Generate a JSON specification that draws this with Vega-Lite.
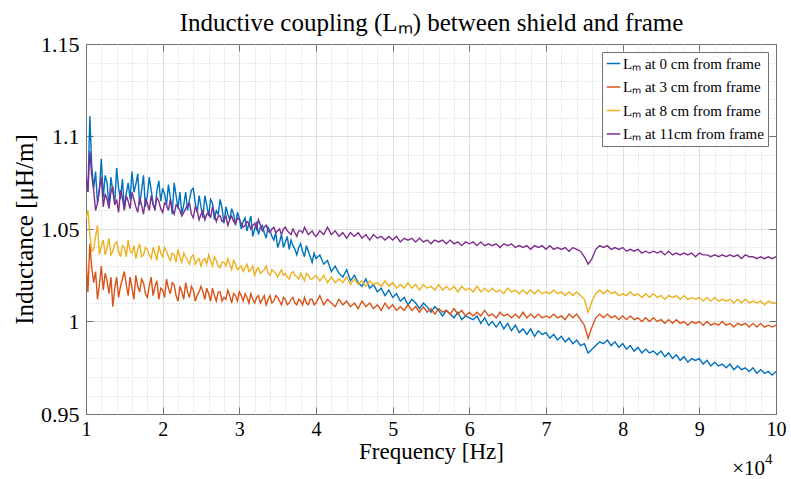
{
"$schema": "https://vega.github.io/schema/vega-lite/v6.json",
"width": 690, "height": 370,
"autosize": {"type": "none"},
"padding": {"left": 86, "top": 44, "right": 15, "bottom": 65},
"background": "white",
"config": {"view": {"stroke": "#707070", "strokeWidth": 1}, "font": "Liberation Serif"},
"datasets": {"main": [
{"f":10000,"a":1.078,"b":1.034,"c":1.056,"d":1.080},
{"f":10500,"a":1.111,"b":1.042,"c":1.047,"d":1.092},
{"f":11000,"a":1.072,"b":1.021,"c":1.039,"d":1.071},
{"f":11500,"a":1.064,"b":1.012,"c":1.052,"d":1.064},
{"f":12000,"a":1.088,"b":1.030,"c":1.041,"d":1.078},
{"f":12500,"a":1.079,"b":1.026,"c":1.036,"d":1.069},
{"f":13000,"a":1.062,"b":1.015,"c":1.045,"d":1.061},
{"f":13500,"a":1.070,"b":1.008,"c":1.038,"d":1.073},
{"f":14000,"a":1.083,"b":1.024,"c":1.043,"d":1.066},
{"f":14500,"a":1.066,"b":1.019,"c":1.035,"d":1.071},
{"f":15000,"a":1.061,"b":1.027,"c":1.040,"d":1.060},
{"f":15500,"a":1.075,"b":1.014,"c":1.044,"d":1.065},
{"f":16000,"a":1.081,"b":1.018,"c":1.037,"d":1.070},
{"f":16500,"a":1.074,"b":1.025,"c":1.034,"d":1.062},
{"f":17000,"a":1.063,"b":1.016,"c":1.042,"d":1.067},
{"f":17500,"a":1.079,"b":1.021,"c":1.036,"d":1.058},
{"f":18000,"a":1.068,"b":1.013,"c":1.039,"d":1.064},
{"f":18500,"a":1.071,"b":1.024,"c":1.034,"d":1.068},
{"f":19000,"a":1.060,"b":1.019,"c":1.037,"d":1.061},
{"f":19500,"a":1.076,"b":1.012,"c":1.041,"d":1.065},
{"f":20000,"a":1.072,"b":1.017,"c":1.035,"d":1.059},
{"f":20500,"a":1.063,"b":1.023,"c":1.038,"d":1.063},
{"f":21000,"a":1.067,"b":1.015,"c":1.033,"d":1.066},
{"f":21500,"a":1.075,"b":1.020,"c":1.036,"d":1.058},
{"f":22000,"a":1.061,"b":1.011,"c":1.039,"d":1.062},
{"f":22500,"a":1.058,"b":1.016,"c":1.032,"d":1.057},
{"f":23000,"a":1.070,"b":1.021,"c":1.035,"d":1.061},
{"f":23500,"a":1.066,"b":1.013,"c":1.031,"d":1.064},
{"f":24000,"a":1.072,"b":1.017,"c":1.036,"d":1.056},
{"f":24500,"a":1.059,"b":1.014,"c":1.033,"d":1.060},
{"f":25000,"a":1.062,"b":1.019,"c":1.030,"d":1.058},
{"f":25500,"a":1.068,"b":1.012,"c":1.034,"d":1.055},
{"f":26000,"a":1.057,"b":1.015,"c":1.036,"d":1.059},
{"f":26500,"a":1.064,"b":1.018,"c":1.030,"d":1.062},
{"f":27000,"a":1.060,"b":1.011,"c":1.033,"d":1.054},
{"f":27500,"a":1.066,"b":1.016,"c":1.029,"d":1.057},
{"f":28000,"a":1.053,"b":1.013,"c":1.032,"d":1.055},
{"f":28500,"a":1.058,"b":1.017,"c":1.034,"d":1.052},
{"f":29000,"a":1.061,"b":1.010,"c":1.028,"d":1.057},
{"f":29500,"a":1.052,"b":1.014,"c":1.031,"d":1.053},
{"f":30000,"a":1.056,"b":1.016,"c":1.029,"d":1.055},
{"f":30500,"a":1.054,"b":1.011,"c":1.027,"d":1.051},
{"f":31000,"a":1.049,"b":1.013,"c":1.031,"d":1.054},
{"f":31500,"a":1.057,"b":1.015,"c":1.028,"d":1.050},
{"f":32000,"a":1.050,"b":1.010,"c":1.025,"d":1.053},
{"f":32500,"a":1.047,"b":1.014,"c":1.029,"d":1.055},
{"f":33000,"a":1.052,"b":1.012,"c":1.027,"d":1.049},
{"f":33500,"a":1.045,"b":1.009,"c":1.030,"d":1.052},
{"f":34000,"a":1.049,"b":1.014,"c":1.025,"d":1.048},
{"f":34500,"a":1.044,"b":1.011,"c":1.027,"d":1.051},
{"f":35000,"a":1.040,"b":1.013,"c":1.024,"d":1.049},
{"f":35500,"a":1.047,"b":1.009,"c":1.028,"d":1.047},
{"f":36000,"a":1.043,"b":1.012,"c":1.026,"d":1.051},
{"f":36500,"a":1.039,"b":1.010,"c":1.023,"d":1.048},
{"f":37000,"a":1.041,"b":1.013,"c":1.027,"d":1.050},
{"f":37500,"a":1.036,"b":1.009,"c":1.024,"d":1.046},
{"f":38000,"a":1.042,"b":1.011,"c":1.026,"d":1.049},
{"f":38500,"a":1.035,"b":1.013,"c":1.022,"d":1.051},
{"f":39000,"a":1.038,"b":1.009,"c":1.025,"d":1.047},
{"f":39500,"a":1.032,"b":1.012,"c":1.023,"d":1.049},
{"f":40000,"a":1.034,"b":1.010,"c":1.025,"d":1.046},
{"f":40500,"a":1.036,"b":1.014,"c":1.022,"d":1.049},
{"f":41000,"a":1.031,"b":1.009,"c":1.025,"d":1.047},
{"f":41500,"a":1.033,"b":1.012,"c":1.021,"d":1.051},
{"f":42000,"a":1.027,"b":1.010,"c":1.024,"d":1.047},
{"f":42500,"a":1.030,"b":1.008,"c":1.021,"d":1.049},
{"f":43000,"a":1.026,"b":1.012,"c":1.023,"d":1.046},
{"f":43500,"a":1.024,"b":1.009,"c":1.021,"d":1.048},
{"f":44000,"a":1.028,"b":1.011,"c":1.024,"d":1.045},
{"f":44500,"a":1.022,"b":1.008,"c":1.020,"d":1.048},
{"f":45000,"a":1.025,"b":1.010,"c":1.023,"d":1.046},
{"f":45500,"a":1.021,"b":1.007,"c":1.020,"d":1.048},
{"f":46000,"a":1.019,"b":1.011,"c":1.022,"d":1.045},
{"f":46500,"a":1.023,"b":1.008,"c":1.019,"d":1.047},
{"f":47000,"a":1.018,"b":1.010,"c":1.022,"d":1.044},
{"f":47500,"a":1.020,"b":1.007,"c":1.020,"d":1.047},
{"f":48000,"a":1.016,"b":1.009,"c":1.021,"d":1.045},
{"f":48500,"a":1.018,"b":1.006,"c":1.019,"d":1.046},
{"f":49000,"a":1.014,"b":1.010,"c":1.022,"d":1.044},
{"f":49500,"a":1.017,"b":1.007,"c":1.019,"d":1.046},
{"f":50000,"a":1.013,"b":1.009,"c":1.021,"d":1.044},
{"f":50500,"a":1.015,"b":1.006,"c":1.018,"d":1.046},
{"f":51000,"a":1.011,"b":1.008,"c":1.020,"d":1.043},
{"f":51500,"a":1.013,"b":1.006,"c":1.018,"d":1.045},
{"f":52000,"a":1.009,"b":1.009,"c":1.021,"d":1.044},
{"f":52500,"a":1.012,"b":1.006,"c":1.018,"d":1.045},
{"f":53000,"a":1.010,"b":1.008,"c":1.020,"d":1.043},
{"f":53500,"a":1.007,"b":1.005,"c":1.017,"d":1.045},
{"f":54000,"a":1.010,"b":1.008,"c":1.020,"d":1.043},
{"f":54500,"a":1.008,"b":1.005,"c":1.018,"d":1.044},
{"f":55000,"a":1.005,"b":1.007,"c":1.019,"d":1.042},
{"f":55500,"a":1.008,"b":1.004,"c":1.017,"d":1.044},
{"f":56000,"a":1.006,"b":1.007,"c":1.020,"d":1.043},
{"f":56500,"a":1.003,"b":1.005,"c":1.017,"d":1.044},
{"f":57000,"a":1.006,"b":1.006,"c":1.019,"d":1.042},
{"f":57500,"a":1.004,"b":1.004,"c":1.017,"d":1.044},
{"f":58000,"a":1.002,"b":1.007,"c":1.019,"d":1.042},
{"f":58500,"a":1.005,"b":1.004,"c":1.016,"d":1.043},
{"f":59000,"a":1.001,"b":1.006,"c":1.019,"d":1.041},
{"f":59500,"a":1.003,"b":1.003,"c":1.017,"d":1.043},
{"f":60000,"a":1.002,"b":1.005,"c":1.018,"d":1.042},
{"f":60500,"a":1.001,"b":1.003,"c":1.016,"d":1.043},
{"f":61000,"a":1.003,"b":1.005,"c":1.019,"d":1.041},
{"f":61500,"a":0.999,"b":1.003,"c":1.016,"d":1.043},
{"f":62000,"a":1.002,"b":1.006,"c":1.018,"d":1.041},
{"f":62500,"a":0.998,"b":1.003,"c":1.016,"d":1.042},
{"f":63000,"a":1.000,"b":1.004,"c":1.018,"d":1.041},
{"f":63500,"a":0.997,"b":1.002,"c":1.016,"d":1.042},
{"f":64000,"a":1.000,"b":1.005,"c":1.017,"d":1.040},
{"f":64500,"a":0.996,"b":1.003,"c":1.015,"d":1.042},
{"f":65000,"a":0.999,"b":1.004,"c":1.018,"d":1.041},
{"f":65500,"a":0.995,"b":1.002,"c":1.016,"d":1.042},
{"f":66000,"a":0.998,"b":1.004,"c":1.017,"d":1.040},
{"f":66500,"a":0.994,"b":1.002,"c":1.015,"d":1.041},
{"f":67000,"a":0.996,"b":1.005,"c":1.017,"d":1.040},
{"f":67500,"a":0.993,"b":1.002,"c":1.015,"d":1.041},
{"f":68000,"a":0.996,"b":1.004,"c":1.017,"d":1.039},
{"f":68500,"a":0.992,"b":1.002,"c":1.015,"d":1.041},
{"f":69000,"a":0.995,"b":1.004,"c":1.017,"d":1.040},
{"f":69500,"a":0.993,"b":1.002,"c":1.015,"d":1.041},
{"f":70000,"a":0.994,"b":1.003,"c":1.016,"d":1.039},
{"f":70500,"a":0.991,"b":1.002,"c":1.015,"d":1.041},
{"f":71000,"a":0.993,"b":1.004,"c":1.017,"d":1.039},
{"f":71500,"a":0.990,"b":1.002,"c":1.015,"d":1.040},
{"f":72000,"a":0.992,"b":1.003,"c":1.016,"d":1.039},
{"f":72500,"a":0.989,"b":1.001,"c":1.014,"d":1.040},
{"f":73000,"a":0.991,"b":1.004,"c":1.016,"d":1.038},
{"f":73500,"a":0.988,"b":1.002,"c":1.014,"d":1.040},
{"f":74000,"a":0.990,"b":1.004,"c":1.016,"d":1.039},
{"f":74500,"a":0.987,"b":1.001,"c":1.014,"d":1.038},
{"f":75000,"a":0.988,"b":0.998,"c":1.012,"d":1.035},
{"f":75500,"a":0.983,"b":0.991,"c":1.005,"d":1.031},
{"f":76000,"a":0.985,"b":0.997,"c":1.011,"d":1.034},
{"f":76500,"a":0.987,"b":1.002,"c":1.015,"d":1.039},
{"f":77000,"a":0.989,"b":1.004,"c":1.017,"d":1.041},
{"f":77500,"a":0.988,"b":1.002,"c":1.015,"d":1.040},
{"f":78000,"a":0.990,"b":1.004,"c":1.017,"d":1.041},
{"f":78500,"a":0.987,"b":1.002,"c":1.015,"d":1.039},
{"f":79000,"a":0.989,"b":1.003,"c":1.016,"d":1.040},
{"f":79500,"a":0.986,"b":1.001,"c":1.014,"d":1.039},
{"f":80000,"a":0.988,"b":1.003,"c":1.015,"d":1.040},
{"f":80500,"a":0.985,"b":1.001,"c":1.014,"d":1.038},
{"f":81000,"a":0.987,"b":1.003,"c":1.016,"d":1.039},
{"f":81500,"a":0.984,"b":1.001,"c":1.014,"d":1.038},
{"f":82000,"a":0.986,"b":1.002,"c":1.015,"d":1.039},
{"f":82500,"a":0.983,"b":1.000,"c":1.013,"d":1.037},
{"f":83000,"a":0.985,"b":1.002,"c":1.015,"d":1.038},
{"f":83500,"a":0.983,"b":1.000,"c":1.013,"d":1.037},
{"f":84000,"a":0.984,"b":1.002,"c":1.015,"d":1.038},
{"f":84500,"a":0.982,"b":1.000,"c":1.013,"d":1.037},
{"f":85000,"a":0.984,"b":1.001,"c":1.014,"d":1.038},
{"f":85500,"a":0.981,"b":0.999,"c":1.012,"d":1.036},
{"f":86000,"a":0.983,"b":1.001,"c":1.014,"d":1.038},
{"f":86500,"a":0.980,"b":0.999,"c":1.013,"d":1.036},
{"f":87000,"a":0.982,"b":1.001,"c":1.014,"d":1.037},
{"f":87500,"a":0.979,"b":0.999,"c":1.012,"d":1.036},
{"f":88000,"a":0.981,"b":1.000,"c":1.014,"d":1.037},
{"f":88500,"a":0.978,"b":0.998,"c":1.012,"d":1.036},
{"f":89000,"a":0.980,"b":1.000,"c":1.013,"d":1.037},
{"f":89500,"a":0.979,"b":0.999,"c":1.012,"d":1.035},
{"f":90000,"a":0.980,"b":1.000,"c":1.013,"d":1.037},
{"f":90500,"a":0.977,"b":0.998,"c":1.011,"d":1.036},
{"f":91000,"a":0.979,"b":1.000,"c":1.013,"d":1.036},
{"f":91500,"a":0.976,"b":0.998,"c":1.011,"d":1.035},
{"f":92000,"a":0.978,"b":0.999,"c":1.013,"d":1.036},
{"f":92500,"a":0.976,"b":0.998,"c":1.011,"d":1.035},
{"f":93000,"a":0.977,"b":1.000,"c":1.012,"d":1.036},
{"f":93500,"a":0.975,"b":0.998,"c":1.011,"d":1.035},
{"f":94000,"a":0.977,"b":0.999,"c":1.012,"d":1.036},
{"f":94500,"a":0.974,"b":0.997,"c":1.010,"d":1.035},
{"f":95000,"a":0.976,"b":0.999,"c":1.012,"d":1.036},
{"f":95500,"a":0.974,"b":0.998,"c":1.010,"d":1.034},
{"f":96000,"a":0.975,"b":0.999,"c":1.012,"d":1.036},
{"f":96500,"a":0.973,"b":0.997,"c":1.010,"d":1.035},
{"f":97000,"a":0.975,"b":0.999,"c":1.011,"d":1.035},
{"f":97500,"a":0.972,"b":0.997,"c":1.010,"d":1.034},
{"f":98000,"a":0.974,"b":0.999,"c":1.011,"d":1.035},
{"f":98500,"a":0.972,"b":0.997,"c":1.009,"d":1.034},
{"f":99000,"a":0.973,"b":0.998,"c":1.011,"d":1.035},
{"f":99500,"a":0.971,"b":0.997,"c":1.010,"d":1.034},
{"f":100000,"a":0.973,"b":0.998,"c":1.010,"d":1.035},
{"f":10250,"a":1.070,"b":1.016,"c":1.060,"d":1.070},
{"f":10750,"a":1.084,"b":1.029,"c":1.038,"d":1.079},
{"f":11250,"a":1.081,"b":1.027,"c":1.046,"d":1.060},
{"f":11750,"a":1.071,"b":1.020,"c":1.036,"d":1.072},
{"f":12250,"a":1.067,"b":1.017,"c":1.044,"d":1.062},
{"f":12750,"a":1.075,"b":1.022,"c":1.040,"d":1.066},
{"f":13250,"a":1.078,"b":1.024,"c":1.036,"d":1.070},
{"f":13750,"a":1.064,"b":1.018,"c":1.042,"d":1.063},
{"f":14250,"a":1.072,"b":1.013,"c":1.038,"d":1.059},
{"f":14750,"a":1.077,"b":1.023,"c":1.041,"d":1.067},
{"f":15250,"a":1.069,"b":1.020,"c":1.035,"d":1.068},
{"f":15750,"a":1.066,"b":1.024,"c":1.038,"d":1.061},
{"f":16250,"a":1.070,"b":1.012,"c":1.041,"d":1.066},
{"f":16750,"a":1.080,"b":1.019,"c":1.039,"d":1.059},
{"f":17250,"a":1.071,"b":1.023,"c":1.035,"d":1.063},
{"f":17750,"a":1.062,"b":1.015,"c":1.040,"d":1.066},
{"f":18250,"a":1.078,"b":1.019,"c":1.036,"d":1.060},
{"f":18750,"a":1.064,"b":1.014,"c":1.040,"d":1.063},
{"f":19250,"a":1.071,"b":1.022,"c":1.033,"d":1.067},
{"f":19750,"a":1.065,"b":1.018,"c":1.037,"d":1.061},
{"f":20250,"a":1.069,"b":1.013,"c":1.040,"d":1.064},
{"f":20750,"a":1.074,"b":1.018,"c":1.035,"d":1.060},
{"f":21250,"a":1.058,"b":1.021,"c":1.037,"d":1.061},
{"f":21750,"a":1.068,"b":1.014,"c":1.032,"d":1.063},
{"f":22250,"a":1.070,"b":1.019,"c":1.035,"d":1.060},
{"f":22750,"a":1.063,"b":1.012,"c":1.037,"d":1.059},
{"f":23250,"a":1.060,"b":1.016,"c":1.033,"d":1.063},
{"f":23750,"a":1.071,"b":1.019,"c":1.035,"d":1.058},
{"f":24250,"a":1.064,"b":1.011,"c":1.031,"d":1.062},
{"f":24750,"a":1.068,"b":1.016,"c":1.034,"d":1.055},
{"f":25250,"a":1.056,"b":1.016,"c":1.033,"d":1.060},
{"f":25750,"a":1.063,"b":1.018,"c":1.031,"d":1.058},
{"f":26250,"a":1.066,"b":1.011,"c":1.033,"d":1.056},
{"f":26750,"a":1.055,"b":1.014,"c":1.035,"d":1.058},
{"f":27250,"a":1.058,"b":1.016,"c":1.030,"d":1.057},
{"f":27750,"a":1.061,"b":1.011,"c":1.032,"d":1.054},
{"f":28250,"a":1.062,"b":1.012,"c":1.030,"d":1.057},
{"f":28750,"a":1.055,"b":1.014,"c":1.031,"d":1.055},
{"f":29250,"a":1.058,"b":1.015,"c":1.033,"d":1.054},
{"f":29750,"a":1.059,"b":1.011,"c":1.028,"d":1.056},
{"f":30250,"a":1.050,"b":1.014,"c":1.030,"d":1.053},
{"f":30750,"a":1.056,"b":1.015,"c":1.029,"d":1.052},
{"f":31250,"a":1.053,"b":1.010,"c":1.027,"d":1.053},
{"f":31750,"a":1.046,"b":1.012,"c":1.030,"d":1.052},
{"f":32250,"a":1.054,"b":1.013,"c":1.028,"d":1.050},
{"f":32750,"a":1.051,"b":1.010,"c":1.026,"d":1.052},
{"f":33250,"a":1.048,"b":1.014,"c":1.028,"d":1.051},
{"f":33750,"a":1.051,"b":1.012,"c":1.026,"d":1.049},
{"f":34250,"a":1.046,"b":1.010,"c":1.028,"d":1.050},
{"f":34750,"a":1.048,"b":1.014,"c":1.026,"d":1.048},
{"f":35250,"a":1.043,"b":1.011,"c":1.026,"d":1.050},
{"f":35750,"a":1.040,"b":1.013,"c":1.025,"d":1.050},
{"f":36250,"a":1.046,"b":1.009,"c":1.024,"d":1.049},
{"f":36750,"a":1.044,"b":1.012,"c":1.026,"d":1.047},
{"f":37250,"a":1.039,"b":1.010,"c":1.025,"d":1.048},
{"f":37750,"a":1.040,"b":1.012,"c":1.023,"d":1.049},
{"f":38250,"a":1.038,"b":1.009,"c":1.024,"d":1.048},
{"f":38750,"a":1.041,"b":1.010,"c":1.026,"d":1.049},
{"f":39250,"a":1.035,"b":1.012,"c":1.023,"d":1.048},
{"f":39750,"a":1.037,"b":1.009,"c":1.024,"d":1.047}
]},
"layer": [
{
"data": {"name": "main"},
"transform": [{"fold": ["a", "b", "c", "d"], "as": ["s", "v"]}],
"mark": {"type": "line", "strokeWidth": 1.4, "clip": true},
"encoding": {
"x": {"field": "f", "type": "quantitative", "scale": {"domain": [10000, 100000], "nice": false, "zero": false},
"axis": {"title": "Frequency [Hz]", "orient": "bottom",
"values": [10000,12000,14000,16000,18000,20000,22000,24000,26000,28000,30000,32000,34000,36000,38000,40000,42000,44000,46000,48000,50000,52000,54000,56000,58000,60000,62000,64000,66000,68000,70000,72000,74000,76000,78000,80000,82000,84000,86000,88000,90000,92000,94000,96000,98000,100000],
"labelExpr": "datum.value % 10000 === 0 ? '' + (datum.value / 10000) : ''",
"labelFlush": false, "labelOverlap": false, "labelBound": false,
"labelFont": "Liberation Serif", "labelFontSize": 20, "labelColor": "#000", "labelPadding": 12,
"domain": false, "tickSize": -7, "tickColor": "#707070", "tickWidth": 1,
"tickOpacity": {"condition": {"test": "datum.value % 10000 === 0", "value": 1}, "value": 0},
"grid": true,
"gridColor": {"condition": {"test": "datum.value % 10000 === 0", "value": "#dedede"}, "value": "#cfcfcf"},
"gridDash": {"condition": {"test": "datum.value % 10000 === 0", "value": []}, "value": [1, 2]},
"gridOpacity": {"condition": {"test": "datum.value > 10000 && datum.value < 100000", "value": 1}, "value": 0},
"titleFont": "Liberation Serif", "titleFontSize": 23, "titleFontWeight": "normal", "titleColor": "#000", "titlePadding": 1}},
"y": {"field": "v", "type": "quantitative", "scale": {"domain": [0.95, 1.15], "nice": false, "zero": false},
"axis": {"title": "Inductance [μH/m]", "orient": "left",
"values": [0.95,0.96,0.97,0.98,0.99,1,1.01,1.02,1.03,1.04,1.05,1.06,1.07,1.08,1.09,1.1,1.11,1.12,1.13,1.14,1.15],
"format": ".2~f",
"labelExpr": "round(datum.value * 100) % 5 === 0 ? datum.label : ''",
"labelOverlap": false, "labelFlush": false, "labelBound": false,
"labelFont": "Liberation Serif", "labelFontSize": 22, "labelColor": "#000", "labelPadding": 14,
"domain": false, "tickSize": -7, "tickColor": "#707070", "tickWidth": 1,
"tickOpacity": {"condition": {"test": "round(datum.value * 100) % 5 === 0", "value": 1}, "value": 0},
"grid": true,
"gridColor": {"condition": {"test": "round(datum.value * 100) % 5 === 0", "value": "#dedede"}, "value": "#cfcfcf"},
"gridDash": {"condition": {"test": "round(datum.value * 100) % 5 === 0", "value": []}, "value": [1, 2]},
"gridOpacity": {"condition": {"test": "datum.value > 0.951 && datum.value < 1.149", "value": 1}, "value": 0},
"titleFont": "Liberation Serif", "titleFontSize": 25, "titleFontWeight": "normal", "titleColor": "#000", "titlePadding": 3}},
"color": {"field": "s", "type": "nominal",
"scale": {"domain": ["a", "b", "c", "d"], "range": ["#0072BD", "#D95319", "#EDB120", "#7E2F8E"]},
"legend": {"title": null, "orient": "top-right", "offset": 8,
"labelExpr": "datum.value == 'a' ? 'Lₘ at 0 cm from frame' : datum.value == 'b' ? 'Lₘ at 3 cm from frame' : datum.value == 'c' ? 'Lₘ at 8 cm from frame' : 'Lₘ at 11cm from frame'",
"strokeColor": "#707070", "fillColor": "white", "padding": 4,
"symbolType": "stroke", "symbolSize": 180, "symbolStrokeWidth": 1.5,
"labelFont": "Liberation Serif", "labelFontSize": 15, "labelColor": "#000", "labelLimit": 300,
"rowPadding": 7.5, "labelOffset": 2}}
}
},
{
"data": {"name": "main"},
"mark": {"type": "point", "opacity": 0},
"encoding": {
"x": {"field": "f", "type": "quantitative", "scale": {"domain": [10000, 100000], "nice": false, "zero": false},
"axis": {"orient": "top", "title": "Inductive coupling (Lₘ) between shield and frame",
"titleFont": "Liberation Serif", "titleFontSize": 25, "titleFontWeight": "normal", "titleColor": "#000",
"titleBaseline": "alphabetic", "titlePadding": 13,
"labels": false, "domain": false, "grid": false,
"values": [10000,20000,30000,40000,50000,60000,70000,80000,90000,100000],
"tickSize": -7, "tickColor": "#707070", "tickWidth": 1}},
"y": {"field": "a", "type": "quantitative", "scale": {"domain": [0.95, 1.15], "nice": false, "zero": false},
"axis": {"orient": "right", "title": null, "labels": false, "domain": false, "grid": false,
"values": [0.95, 1, 1.05, 1.1, 1.15],
"tickSize": -7, "tickColor": "#707070", "tickWidth": 1}}
}
},
{
"data": {"values": [{}]},
"mark": {"type": "text", "align": "right", "baseline": "alphabetic", "dx": -11, "dy": 61, "font": "Liberation Serif", "fontSize": 21, "color": "#000"},
"encoding": {
"x": {"datum": 100000, "type": "quantitative", "axis": null},
"y": {"datum": 0.95, "type": "quantitative", "axis": null},
"text": {"value": "×10"}
}
},
{
"data": {"values": [{}]},
"mark": {"type": "text", "align": "left", "baseline": "alphabetic", "dx": -11, "dy": 50, "font": "Liberation Serif", "fontSize": 15, "color": "#000"},
"encoding": {
"x": {"datum": 100000, "type": "quantitative", "axis": null},
"y": {"datum": 0.95, "type": "quantitative", "axis": null},
"text": {"value": "4"}
}
}
],
"resolve": {"axis": {"x": "independent", "y": "independent"}}
}
